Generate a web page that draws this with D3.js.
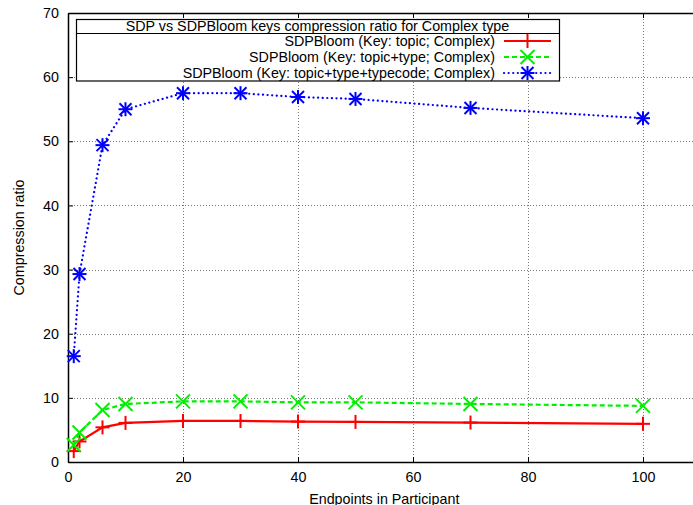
<!DOCTYPE html>
<html>
<head>
<meta charset="utf-8">
<script src="https://cdn.jsdelivr.net/npm/d3@7"></script>
<style>
  body { margin: 0; background: #fff; }
  svg text { font-family: "Liberation Sans", Arial, sans-serif; font-size: 14.3px; fill: #000; }
</style>
</head>
<body>
<svg id="chart" width="693" height="505"></svg>
<script>
// data
var endpoints = [1, 2, 6, 10, 20, 30, 40, 50, 70, 100];
var topicRatio = [1.7, 3.2, 5.4, 6.1, 6.4, 6.4, 6.3, 6.25, 6.15, 5.95];
var topicTypeRatio = [2.65, 4.6, 8.1, 9.05, 9.45, 9.45, 9.3, 9.3, 9.05, 8.75];
var topicTypeCodeRatio = [16.5, 29.3, 49.4, 55.0, 57.5, 57.5, 56.9, 56.6, 55.2, 53.6];
var xTicks = [0, 20, 40, 60, 80, 100];
var yTicks = [0, 10, 20, 30, 40, 50, 60, 70];
var seriesNames = [
    "SDPBloom (Key: topic; Complex)",
    "SDPBloom (Key: topic+type; Complex)",
    "SDPBloom (Key: topic+type+typecode; Complex)"
];
var chartTitle = "SDP vs SDPBloom keys compression ratio for Complex type";

var svg = d3.select("#chart");

var plotLeft = 68, plotRight = 700.5, plotTop = 13, plotBottom = 462;

var x = d3.scaleLinear().domain([0, 110]).range([plotLeft, plotRight]);
var y = d3.scaleLinear().domain([0, 70]).range([plotBottom, plotTop]);

// grid
var grid = svg.append("g").attr("stroke", "#777").attr("stroke-width", 1).attr("stroke-dasharray", "1,2");
grid.selectAll(".gx").data(xTicks.filter(d => d > 0)).enter().append("line")
    .attr("x1", d => Math.round(x(d)) + 0.5).attr("x2", d => Math.round(x(d)) + 0.5)
    .attr("y1", plotTop).attr("y2", plotBottom);
grid.selectAll(".gy").data(yTicks.filter(d => d > 0)).enter().append("line")
    .attr("x1", plotLeft).attr("x2", 693)
    .attr("y1", d => Math.round(y(d)) + 0.5).attr("y2", d => Math.round(y(d)) + 0.5);

// axes (gnuplot style, inward ticks, mirrored on top)
var xAxis = d3.axisBottom(x).tickValues(xTicks).tickSizeInner(-5).tickSizeOuter(0).tickPadding(10);
var yAxis = d3.axisLeft(y).tickValues(yTicks).tickSizeInner(-5).tickSizeOuter(0).tickPadding(9);

var gx = svg.append("g").attr("transform", "translate(0," + plotBottom + ")").call(xAxis);
var gy = svg.append("g").attr("transform", "translate(" + plotLeft + ",0)").call(yAxis);
var gxTop = svg.append("g").attr("transform", "translate(0," + plotTop + ")")
    .call(d3.axisTop(x).tickValues(xTicks).tickSizeInner(-5).tickSizeOuter(0).tickFormat(""));
[gx, gy, gxTop].forEach(function (g) {
    g.select(".domain").attr("stroke", "#000").attr("stroke-width", 1.5);
    g.selectAll(".tick line").attr("stroke", "#000");
    g.selectAll(".tick text").style("font-size", "14.3px").style("font-family", "Liberation Sans, Arial, sans-serif");
});

// axis titles
svg.append("text").attr("x", (plotLeft + plotRight) / 2).attr("y", 503.5).attr("text-anchor", "middle")
    .text("Endpoints in Participant");
svg.append("text").attr("transform", "translate(24," + (plotTop + plotBottom) / 2 + ") rotate(-90)")
    .attr("text-anchor", "middle").text("Compression ratio");

// series
var series = [
    { name: seriesNames[0], values: topicRatio, color: "#ff0000", dash: null, cap: "butt", marker: "plus" },
    { name: seriesNames[1], values: topicTypeRatio, color: "#00ee00", dash: "5,3", cap: "butt", marker: "cross" },
    { name: seriesNames[2], values: topicTypeCodeRatio, color: "#0000ff", dash: "0.1,4.5", cap: "round", marker: "star" }
];

function marker(g, type, cx, cy, color) {
    var s = 7;
    var segs = [];
    if (type === "plus" || type === "star") {
        segs.push([cx - s, cy, cx + s, cy], [cx, cy - s, cx, cy + s]);
    }
    if (type === "cross" || type === "star") {
        var t = type === "star" ? 6 : 7;
        segs.push([cx - t, cy - t, cx + t, cy + t], [cx - t, cy + t, cx + t, cy - t]);
    }
    segs.forEach(function (p) {
        g.append("line").attr("x1", p[0]).attr("y1", p[1]).attr("x2", p[2]).attr("y2", p[3])
            .attr("stroke", color).attr("stroke-width", 2);
    });
}

var line = d3.line().x(d => x(d[0])).y(d => y(d[1]));

series.forEach(function (s) {
    var pts = endpoints.map((e, i) => [e, s.values[i]]);
    svg.append("path").datum(pts).attr("d", line)
        .attr("fill", "none").attr("stroke", s.color).attr("stroke-width", 2.2)
        .attr("stroke-dasharray", s.dash).attr("stroke-linecap", s.cap);
    var mg = svg.append("g");
    pts.forEach(function (p) { marker(mg, s.marker, x(p[0]), y(p[1]), s.color); });
});

// legend box (opaque)
var lg = svg.append("g");
lg.append("rect").attr("x", 76.5).attr("y", 19.5).attr("width", 483).attr("height", 61.5)
    .attr("fill", "#fff").attr("stroke", "#000").attr("stroke-width", 1.2);
lg.append("line").attr("x1", 76.5).attr("x2", 559.5).attr("y1", 33.5).attr("y2", 33.5)
    .attr("stroke", "#000").attr("stroke-width", 1.2);
lg.append("text").attr("x", 317.5).attr("y", 31).attr("text-anchor", "middle").text(chartTitle);
series.forEach(function (s, i) {
    var ry = 41 + i * 16;
    lg.append("text").attr("x", 495).attr("y", ry + 5).attr("text-anchor", "end").text(s.name);
    lg.append("line").attr("x1", 504).attr("x2", 551).attr("y1", ry).attr("y2", ry)
        .attr("stroke", s.color).attr("stroke-width", 2.2)
        .attr("stroke-dasharray", s.dash).attr("stroke-linecap", s.cap);
    marker(lg, s.marker, 527.5, ry, s.color);
});
</script>
</body>
</html>
